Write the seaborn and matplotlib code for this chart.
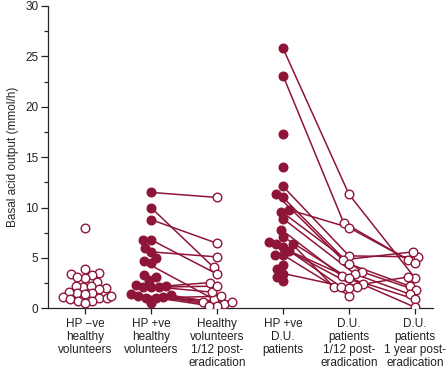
import numpy as np
import pandas as pd
import matplotlib
matplotlib.use("Agg")
import matplotlib.pyplot as plt
import seaborn as sns

# Category labels (x axis)
groups = [
    "HP \u2212ve\nhealthy\nvolunteers",
    "HP +ve\nhealthy\nvolunteers",
    "Healthy\nvolunteers\n1/12 post-\neradication",
    "HP +ve\nD.U.\npatients",
    "D.U.\npatients\n1/12 post-\neradication",
    "D.U.\npatients\n1 year post-\neradication",
]

# HP -ve healthy volunteers (unpaired)
hp_neg_healthy = [8.0, 3.9, 3.45, 3.5, 3.3, 3.05, 3.1, 2.6, 2.0, 2.1, 2.25, 1.9, 2.2,
                  1.5, 1.5, 1.6, 1.4, 1.0, 1.0, 1.1, 0.9, 1.2, 0.7, 0.7, 0.55]

# HP +ve healthy volunteers and the same people 1/12 after eradication (nan = not followed)
healthy_before = [11.5, 10.0, 8.8, 6.8, 6.8, 6.0, 5.6, 5.0, 4.65, 4.5, 3.3, 3.1, 2.8,
                  2.3, 2.2, 2.1, 2.1, 2.1, 1.4, 1.3, 1.2, 1.1, 1.05, 1.0, 0.5]
healthy_after = [11.0, 4.05, 6.45, 3.4, np.nan, np.nan, 5.1, np.nan, 0.9, np.nan, np.nan,
                 np.nan, np.nan, 1.6, np.nan, 2.55, 2.2, np.nan, 0.65, 0.4, 0.65, 0.25,
                 0.25, 1.2, np.nan]

# D.U. patients: before, 1/12 and 1 year after eradication
du_before = [25.8, 23.1, 17.3, 14.0, 12.1, 11.3, 11.0, 9.8, 9.6, 8.9, 7.8, 7.1, 6.6,
             6.35, 6.35, 6.1, 5.7, 5.3, 5.3, 4.3, 3.85, 3.45, 3.1, 2.7]
du_1month = [11.3, 8.5, np.nan, np.nan, 5.2, 4.8, 4.4, 8.0, 3.6, 3.4, 3.2, 2.96, 2.4,
             2.1, 2.1, np.nan, 2.1, 1.25, np.nan, np.nan, np.nan, 2.04, np.nan, np.nan]
du_1year = [3.0, 4.8, np.nan, np.nan, 5.1, 5.6, 2.2, 4.45, 1.8, 1.4, 0.9, 0.1, 3.1,
            np.nan, np.nan, np.nan, np.nan, np.nan, np.nan, np.nan, np.nan, np.nan,
            np.nan, np.nan]

COLOR = "#8e1538"

# long table, one row per measurement
series = [hp_neg_healthy, healthy_before, healthy_after, du_before, du_1month, du_1year]
rows = []
for g, vals in zip(groups, series):
    for i, v in enumerate(vals):
        if not np.isnan(v):
            rows.append({"group": g, "value": v, "idx": i})
df = pd.DataFrame(rows)

sns.set_style("ticks")
plt.rcParams["font.family"] = ["Liberation Sans", "DejaVu Sans"]

fig = plt.figure(figsize=(4.47, 3.70), dpi=100)
ax = fig.add_axes([0.1074, 0.1668, 0.861, 0.817])

# swarm laid out with small markers so the columns stay narrow like the original
sns.swarmplot(data=df, x="group", y="value", order=groups, ax=ax, color=COLOR,
              size=4.2, edgecolor=COLOR, linewidth=1.0, zorder=3)

open_groups = [0, 2, 4, 5]
colls = [c for c in ax.collections if len(c.get_offsets()) > 0]
for k in open_groups:
    colls[k].set_facecolor("white")

ax.set_xlim(-0.56, 5.27)
ax.set_ylim(0, 30)
ax.set_yticks(np.arange(0, 31, 5))
ax.set_yticks(np.arange(0, 30.1, 2.5), minor=True)
ax.set_xlabel("")
ax.set_ylabel("Basal acid output (mmol/h)", fontsize=8.5, labelpad=4)
ax.tick_params(axis="y", which="major", length=5, width=0.9, labelsize=8.5, pad=2,
               colors="#222222")
ax.tick_params(axis="y", which="minor", length=3, width=0.9)
ax.tick_params(axis="x", length=4, width=0.9, labelsize=8.5, pad=3, colors="#222222")
for lab in ax.get_xticklabels():
    lab.set_linespacing(1.12)
sns.despine(ax=ax)
ax.spines["left"].set_linewidth(0.9)
ax.spines["bottom"].set_linewidth(0.9)
ax.spines["left"].set_bounds(0, 30)

# fix the swarm layout, freeze it, then enlarge the markers
fig.canvas.draw()
for c in colls:
    if "draw" in c.__dict__:
        del c.draw
    c.set_sizes([6.2 ** 2])


def positions(k):
    off = colls[k].get_offsets()
    sub = df[df["group"] == groups[k]]
    order_in = np.argsort(sub["value"].to_numpy(), kind="stable")
    order_off = np.argsort(off[:, 1], kind="stable")
    idxs = sub["idx"].to_numpy()
    return {idxs[a]: off[b] for a, b in zip(order_in, order_off)}


def connect(k1, k2):
    p1 = positions(k1)
    p2 = positions(k2)
    for i in p1:
        if i in p2:
            ax.plot([p1[i][0], p2[i][0]], [p1[i][1], p2[i][1]], color=COLOR,
                    lw=1.1, zorder=2)


connect(1, 2)
connect(3, 4)
connect(4, 5)

fig.savefig("out.png", dpi=100)
